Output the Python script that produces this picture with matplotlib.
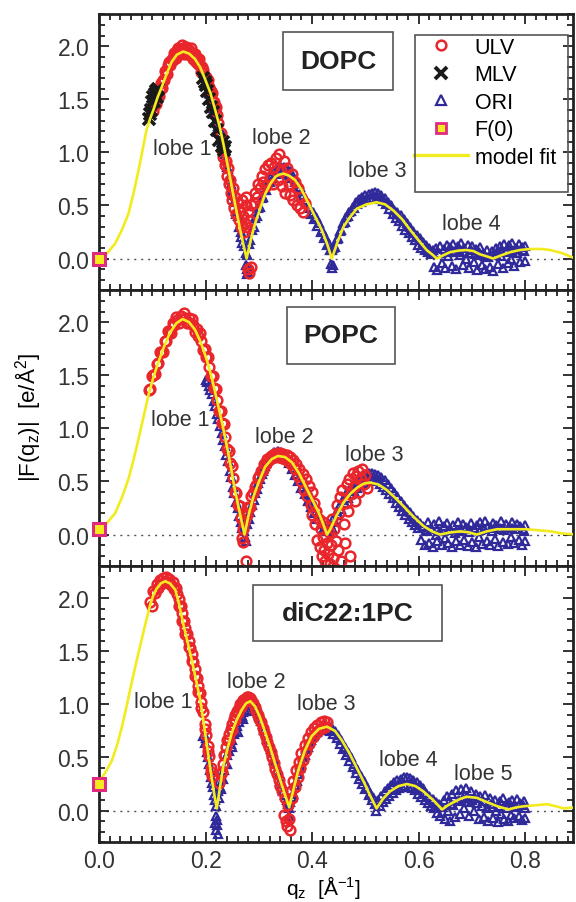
import numpy as np
import matplotlib.pyplot as plt
from matplotlib.ticker import MultipleLocator
from matplotlib.patches import Rectangle
from matplotlib.lines import Line2D

plt.rcParams['font.family'] = ['Liberation Sans', 'DejaVu Sans']
plt.rcParams['mathtext.fontset'] = 'custom'
plt.rcParams['mathtext.rm'] = 'Liberation Sans'
plt.rcParams['mathtext.it'] = 'Liberation Sans'

RED = '#e8262b'
NAVY = '#30299a'
YELLOW = '#f2ec1e'
MAGENTA = '#e02a80'

# ---------------- model fits (q in 1/A, |F| in e/A^2) ----------------
dopc_fit_q = [0, 0.015, 0.030, 0.043, 0.055, 0.065, 0.074, 0.082, 0.089, 0.096, 0.102, 0.110, 0.118,
              0.127, 0.136, 0.146, 0.158, 0.169, 0.180, 0.190, 0.199, 0.209, 0.218, 0.226, 0.233, 0.241,
              0.249, 0.257, 0.265, 0.271, 0.277, 0.285, 0.293, 0.303, 0.312, 0.321, 0.331, 0.338, 0.346,
              0.357, 0.368, 0.380, 0.393, 0.405, 0.418, 0.428, 0.437, 0.448, 0.459, 0.471, 0.484, 0.502,
              0.521, 0.537, 0.553, 0.569, 0.584, 0.600, 0.615, 0.625, 0.634, 0.646, 0.659, 0.675, 0.690,
              0.703, 0.715, 0.728, 0.740, 0.755, 0.772, 0.790, 0.810, 0.830, 0.847, 0.870, 0.894]
dopc_fit_f = [0, 0.05, 0.14, 0.27, 0.42, 0.62, 0.83, 1.03, 1.21, 1.32, 1.40, 1.52, 1.62, 1.74, 1.85,
              1.92, 1.95, 1.93, 1.88, 1.80, 1.69, 1.56, 1.40, 1.25, 1.09, 0.89, 0.68, 0.47, 0.27, 0.13,
              0.00, 0.18, 0.33, 0.48, 0.61, 0.70, 0.77, 0.79, 0.80, 0.78, 0.74, 0.65, 0.52, 0.40, 0.27,
              0.14, 0.00, 0.16, 0.30, 0.39, 0.47, 0.51, 0.53, 0.51, 0.45, 0.37, 0.27, 0.17, 0.08, 0.04,
              0.00, 0.03, 0.06, 0.075, 0.08, 0.07, 0.04, 0.02, 0.00, 0.03, 0.06, 0.08, 0.09, 0.09, 0.08,
              0.05, 0.00]

popc_fit_q = [0, 0.015, 0.030, 0.043, 0.055, 0.065, 0.074, 0.084, 0.093, 0.102, 0.111, 0.122, 0.133,
              0.145, 0.157, 0.169, 0.180, 0.191, 0.202, 0.212, 0.221, 0.231, 0.240, 0.248, 0.255, 0.264,
              0.273, 0.281, 0.290, 0.301, 0.312, 0.324, 0.336, 0.349, 0.362, 0.375, 0.387, 0.400, 0.412,
              0.420, 0.428, 0.434, 0.446, 0.459, 0.471, 0.484, 0.497, 0.509, 0.525, 0.540, 0.555, 0.571,
              0.590, 0.609, 0.625, 0.640, 0.660, 0.678, 0.695, 0.709, 0.728, 0.747, 0.775, 0.803, 0.825,
              0.847, 0.870, 0.894]
popc_fit_f = [0.05, 0.11, 0.20, 0.35, 0.52, 0.71, 0.90, 1.12, 1.32, 1.48, 1.62, 1.77, 1.90, 1.99, 2.03,
              2.00, 1.93, 1.81, 1.65, 1.47, 1.27, 1.05, 0.83, 0.62, 0.42, 0.21, 0.00, 0.19, 0.36, 0.51,
              0.64, 0.71, 0.74, 0.73, 0.68, 0.58, 0.46, 0.33, 0.21, 0.11, 0.00, 0.05, 0.18, 0.30, 0.38,
              0.44, 0.48, 0.49, 0.47, 0.42, 0.35, 0.27, 0.17, 0.08, 0.03, 0.00, 0.02, 0.03, 0.02, 0.00,
              0.03, 0.05, 0.05, 0.05, 0.04, 0.03, 0.01, 0.00]

dic22_fit_q = [0, 0.012, 0.024, 0.034, 0.043, 0.052, 0.061, 0.070, 0.080, 0.088, 0.096, 0.102, 0.108,
               0.116, 0.124, 0.133, 0.143, 0.150, 0.158, 0.166, 0.174, 0.182, 0.190, 0.196, 0.202, 0.207,
               0.212, 0.217, 0.221, 0.227, 0.233, 0.241, 0.249, 0.258, 0.268, 0.276, 0.284, 0.293, 0.302,
               0.311, 0.321, 0.330, 0.340, 0.349, 0.357, 0.365, 0.374, 0.386, 0.399, 0.413, 0.428, 0.443,
               0.456, 0.470, 0.484, 0.497, 0.509, 0.516, 0.521, 0.533, 0.546, 0.562, 0.578, 0.594, 0.609,
               0.627, 0.644, 0.655, 0.666, 0.678, 0.690, 0.709, 0.728, 0.748, 0.769, 0.783, 0.797, 0.820,
               0.841, 0.858, 0.872, 0.894]
dic22_fit_f = [0.27, 0.36, 0.47, 0.62, 0.79, 0.99, 1.20, 1.40, 1.61, 1.78, 1.94, 2.03, 2.09, 2.14, 2.16,
               2.14, 2.08, 1.95, 1.76, 1.59, 1.42, 1.23, 1.04, 0.84, 0.63, 0.46, 0.29, 0.13, 0.02, 0.22,
               0.41, 0.58, 0.73, 0.85, 0.95, 1.01, 1.03, 0.98, 0.88, 0.75, 0.60, 0.45, 0.29, 0.15, 0.03,
               0.20, 0.38, 0.56, 0.70, 0.77, 0.79, 0.75, 0.66, 0.54, 0.40, 0.27, 0.14, 0.07, 0.02, 0.11,
               0.18, 0.23, 0.25, 0.23, 0.18, 0.10, 0.01, 0.05, 0.08, 0.11, 0.13, 0.12, 0.08, 0.04, 0.01,
               0.03, 0.04, 0.05, 0.06, 0.04, 0.02, 0.03]

# F(0) values
f0_values = [0.0, 0.05, 0.25]

# ---------------- DOPC data ----------------
dopc_ulv = [(0.100, 1.43), (0.102, 1.39), (0.104, 1.46), (0.106, 1.46), (0.108, 1.55), (0.110, 1.54),
            (0.112, 1.53), (0.114, 1.61), (0.116, 1.65), (0.118, 1.61), (0.120, 1.68), (0.122, 1.68),
            (0.124, 1.77), (0.126, 1.75), (0.128, 1.74), (0.130, 1.82), (0.132, 1.85), (0.134, 1.82),
            (0.136, 1.88), (0.138, 1.87), (0.140, 1.94), (0.142, 1.92), (0.144, 1.89), (0.146, 1.96),
            (0.148, 1.98), (0.150, 1.93), (0.152, 1.97), (0.154, 1.95), (0.156, 2.01), (0.158, 1.97),
            (0.160, 1.93), (0.162, 1.99), (0.164, 1.99), (0.166, 1.93), (0.168, 1.96), (0.170, 1.92),
            (0.172, 1.98), (0.174, 1.93), (0.176, 1.88), (0.178, 1.93), (0.180, 1.93), (0.182, 1.85),
            (0.184, 1.88), (0.186, 1.83), (0.188, 1.88), (0.190, 1.82), (0.192, 1.76), (0.194, 1.80),
            (0.196, 1.78), (0.198, 1.70), (0.200, 1.71), (0.202, 1.65), (0.204, 1.68), (0.206, 1.62),
            (0.208, 1.55), (0.210, 1.58), (0.212, 1.56), (0.214, 1.47), (0.216, 1.47), (0.218, 1.40),
            (0.220, 1.43), (0.222, 1.35), (0.224, 1.28),
            (0.228, 1.18), (0.231, 1.02), (0.233, 0.96), (0.236, 0.88), (0.238, 0.92), (0.240, 0.78),
            (0.242, 0.85), (0.244, 0.70), (0.246, 0.74), (0.248, 0.62), (0.250, 0.55), (0.252, 0.66),
            (0.254, 0.48), (0.256, 0.58), (0.258, 0.42), (0.260, 0.52), (0.262, 0.36), (0.264, 0.45),
            (0.266, 0.30), (0.268, 0.55), (0.270, 0.40), (0.272, 0.25), (0.274, 0.33), (0.276, 0.50),
            (0.275, 0.58), (0.278, 0.30), (0.280, 0.45), (0.283, 0.35), (0.286, 0.50),
            (0.279, -0.10), (0.282, -0.14), (0.285, -0.08),
            (0.290, 0.52), (0.293, 0.62), (0.296, 0.58), (0.299, 0.70), (0.302, 0.66), (0.305, 0.78),
            (0.308, 0.72), (0.311, 0.84), (0.314, 0.68), (0.317, 0.88), (0.320, 0.76), (0.323, 0.90),
            (0.326, 0.70), (0.329, 0.86), (0.332, 0.95), (0.335, 0.74), (0.338, 0.98), (0.341, 0.82),
            (0.344, 0.68), (0.347, 0.92), (0.350, 0.62), (0.353, 0.85), (0.356, 0.70), (0.359, 0.60),
            (0.362, 0.80), (0.365, 0.55), (0.368, 0.72), (0.371, 0.50), (0.374, 0.66), (0.377, 0.48),
            (0.380, 0.58), (0.383, 0.44), (0.386, 0.52)]

dopc_mlv = [(0.094, 1.31), (0.096, 1.36), (0.098, 1.40), (0.100, 1.47), (0.102, 1.52), (0.103, 1.48),
            (0.105, 1.55), (0.107, 1.58), (0.108, 1.52), (0.110, 1.60), (0.196, 1.70), (0.198, 1.66),
            (0.200, 1.63), (0.202, 1.58), (0.206, 1.50), (0.210, 1.43), (0.214, 1.38), (0.218, 1.30),
            (0.222, 1.21), (0.226, 1.12), (0.230, 1.06), (0.232, 1.10), (0.234, 1.02), (0.236, 1.05)]

dopc_ori = [(0.200, 1.64), (0.203, 1.63), (0.206, 1.56), (0.209, 1.55), (0.212, 1.46), (0.215, 1.45),
            (0.218, 1.36), (0.221, 1.35), (0.224, 1.25), (0.227, 1.22), (0.230, 1.12), (0.233, 1.09),
            (0.236, 0.98), (0.239, 0.93), (0.242, 0.84), (0.245, 0.78), (0.248, 0.70), (0.251, 0.60),
            (0.254, 0.53), (0.257, 0.45), (0.260, 0.40), (0.263, 0.30), (0.266, 0.25), (0.269, 0.15),
            (0.272, 0.12), (0.275, 0.05), (0.278, 0.03), (0.205, 1.58), (0.214, 1.42), (0.222, 1.28),
            (0.231, 1.06), (0.240, 0.86), (0.249, 0.64), (0.258, 0.42), (0.267, 0.20),
            (0.276, -0.06), (0.278, -0.10), (0.280, -0.13), (0.277, -0.15), (0.281, -0.08),
            (0.281, 0.14), (0.284, 0.17), (0.287, 0.27), (0.290, 0.30), (0.293, 0.38), (0.296, 0.40),
            (0.299, 0.48), (0.302, 0.49), (0.305, 0.57), (0.308, 0.58), (0.311, 0.65), (0.314, 0.65),
            (0.317, 0.72), (0.320, 0.72), (0.323, 0.78), (0.326, 0.76), (0.329, 0.82), (0.332, 0.80),
            (0.335, 0.85), (0.338, 0.81), (0.341, 0.86), (0.344, 0.82), (0.347, 0.86), (0.350, 0.81),
            (0.353, 0.84), (0.356, 0.79), (0.359, 0.82), (0.362, 0.76), (0.365, 0.78), (0.368, 0.72),
            (0.371, 0.73), (0.374, 0.66), (0.377, 0.67), (0.380, 0.60), (0.383, 0.60), (0.386, 0.54),
            (0.389, 0.55), (0.392, 0.48), (0.395, 0.49), (0.398, 0.42), (0.401, 0.44), (0.404, 0.37),
            (0.407, 0.39), (0.410, 0.31), (0.413, 0.33), (0.416, 0.25), (0.419, 0.27), (0.422, 0.19),
            (0.425, 0.21), (0.428, 0.13), (0.431, 0.14), (0.434, 0.08), (0.437, 0.08),
            (0.436, -0.05), (0.438, -0.09), (0.440, -0.06),
            (0.440, 0.10), (0.443, 0.11), (0.446, 0.18), (0.449, 0.19), (0.452, 0.26), (0.455, 0.27),
            (0.458, 0.33), (0.461, 0.34), (0.464, 0.39), (0.467, 0.40), (0.470, 0.44), (0.473, 0.45),
            (0.476, 0.49), (0.479, 0.48), (0.482, 0.53), (0.485, 0.51), (0.488, 0.56), (0.491, 0.53),
            (0.494, 0.58), (0.497, 0.55), (0.500, 0.60), (0.503, 0.56), (0.506, 0.61), (0.509, 0.57),
            (0.512, 0.62), (0.515, 0.57), (0.518, 0.63), (0.521, 0.58), (0.524, 0.62), (0.527, 0.56),
            (0.530, 0.60), (0.533, 0.54), (0.536, 0.57), (0.539, 0.51), (0.542, 0.53), (0.545, 0.47),
            (0.548, 0.50), (0.551, 0.42), (0.554, 0.46), (0.557, 0.38), (0.560, 0.44), (0.563, 0.35),
            (0.566, 0.41), (0.569, 0.31), (0.572, 0.37), (0.575, 0.27), (0.578, 0.33), (0.581, 0.24),
            (0.584, 0.30), (0.587, 0.20), (0.590, 0.26), (0.593, 0.17), (0.596, 0.22), (0.599, 0.13),
            (0.602, 0.19), (0.605, 0.10), (0.608, 0.16), (0.611, 0.08), (0.614, 0.13), (0.617, 0.06),
            (0.620, 0.10), (0.623, 0.04),
            (0.626, 0.08), (0.629, -0.08), (0.632, 0.10), (0.635, -0.11), (0.638, 0.05), (0.641, 0.12),
            (0.644, -0.04), (0.647, 0.09), (0.650, -0.09), (0.653, 0.13), (0.656, 0.02), (0.659, 0.11),
            (0.662, -0.07), (0.665, 0.14), (0.668, 0.06), (0.671, -0.10), (0.674, 0.12), (0.677, 0.03),
            (0.680, 0.15), (0.683, -0.06), (0.686, 0.10), (0.689, 0.00), (0.692, 0.13), (0.695, -0.09),
            (0.698, 0.08), (0.701, 0.12), (0.704, -0.03), (0.707, 0.09), (0.710, -0.11), (0.713, 0.06),
            (0.716, 0.11), (0.719, -0.06), (0.722, 0.04), (0.725, -0.10), (0.728, 0.08), (0.731, 0.01),
            (0.734, -0.08), (0.737, 0.07), (0.740, -0.12), (0.743, 0.04), (0.746, 0.10), (0.749, -0.05),
            (0.752, 0.12), (0.755, 0.02), (0.758, -0.09), (0.761, 0.14), (0.764, 0.06), (0.767, -0.04),
            (0.770, 0.13), (0.773, 0.00), (0.776, 0.15), (0.779, -0.07), (0.782, 0.10), (0.785, 0.05),
            (0.788, 0.14), (0.791, -0.03), (0.794, 0.11), (0.797, 0.07), (0.800, 0.12), (0.800, -0.02),
            (0.655, 0.06), (0.665, 0.07), (0.675, 0.08), (0.685, 0.06), (0.695, 0.05), (0.705, 0.04),
            (0.715, 0.03), (0.725, 0.02), (0.745, 0.03), (0.755, 0.06), (0.765, 0.08), (0.775, 0.07),
            (0.785, 0.09), (0.795, 0.08)]

# ---------------- POPC data ----------------
popc_ulv = [(0.093, 1.36), (0.096, 1.37), (0.099, 1.49), (0.102, 1.50), (0.105, 1.51), (0.108, 1.61),
            (0.111, 1.62), (0.114, 1.72), (0.117, 1.72), (0.120, 1.72), (0.123, 1.82), (0.126, 1.82),
            (0.129, 1.92), (0.132, 1.91), (0.135, 1.90), (0.138, 1.99), (0.141, 1.97), (0.144, 2.05),
            (0.147, 2.02), (0.150, 1.99), (0.153, 2.06), (0.156, 2.03), (0.159, 2.09), (0.162, 2.04),
            (0.165, 1.99), (0.168, 2.04), (0.171, 1.99), (0.174, 2.03), (0.177, 1.97), (0.180, 1.91),
            (0.183, 1.94), (0.186, 1.87), (0.189, 1.90), (0.192, 1.82), (0.195, 1.74), (0.198, 1.75),
            (0.201, 1.67), (0.204, 1.67), (0.207, 1.58), (0.210, 1.49), (0.213, 1.49), (0.216, 1.38),
            (0.219, 1.37), (0.222, 1.27), (0.225, 1.16), (0.228, 1.16), (0.231, 1.05), (0.234, 1.04),
            (0.237, 0.92), (0.240, 0.81), (0.243, 0.79), (0.246, 0.67), (0.249, 0.65), (0.252, 0.53),
            (0.255, 0.40), (0.258, 0.39), (0.261, 0.28), (0.264, 0.27), (0.267, 0.16), (0.270, 0.05),
            (0.268, -0.03), (0.271, -0.07), (0.273, 0.12), (0.276, -0.25), (0.274, 0.20),
            (0.277, 0.18), (0.280, 0.26), (0.283, 0.26), (0.286, 0.36), (0.289, 0.39), (0.292, 0.45),
            (0.295, 0.47), (0.298, 0.53), (0.301, 0.55), (0.304, 0.60), (0.307, 0.61), (0.310, 0.66),
            (0.313, 0.66), (0.316, 0.71), (0.319, 0.70), (0.322, 0.74), (0.325, 0.72), (0.328, 0.76),
            (0.331, 0.73), (0.334, 0.77), (0.337, 0.73), (0.340, 0.77), (0.343, 0.72), (0.346, 0.76),
            (0.349, 0.71), (0.352, 0.75), (0.355, 0.69), (0.358, 0.73), (0.361, 0.66), (0.364, 0.70),
            (0.367, 0.62), (0.370, 0.66), (0.373, 0.55), (0.376, 0.62), (0.379, 0.50), (0.382, 0.57),
            (0.385, 0.42), (0.388, 0.52), (0.391, 0.36), (0.394, 0.46), (0.397, 0.28), (0.400, 0.40),
            (0.400, 0.18), (0.403, 0.30), (0.405, 0.10), (0.408, 0.22), (0.410, -0.05), (0.412, 0.15),
            (0.414, -0.12), (0.416, 0.05), (0.418, -0.20), (0.420, 0.12), (0.421, -0.02), (0.423, -0.15),
            (0.425, -0.25), (0.427, 0.08), (0.428, -0.08), (0.430, -0.18), (0.432, 0.02), (0.434, -0.28),
            (0.436, -0.10), (0.438, 0.15), (0.440, -0.22), (0.442, 0.05), (0.444, -0.06), (0.446, 0.28),
            (0.448, -0.15), (0.450, 0.20), (0.452, 0.35), (0.455, -0.25), (0.457, 0.42), (0.459, 0.10),
            (0.461, -0.08), (0.463, 0.30), (0.465, 0.48), (0.467, 0.22), (0.469, 0.52), (0.471, -0.20),
            (0.473, 0.38), (0.476, 0.58), (0.478, 0.45), (0.481, 0.32), (0.483, 0.55), (0.486, 0.60),
            (0.488, 0.40), (0.491, 0.52), (0.494, 0.62), (0.497, 0.48), (0.500, 0.56), (0.503, 0.44)]

popc_ori = [(0.200, 1.46), (0.203, 1.44), (0.206, 1.40), (0.209, 1.36), (0.212, 1.32), (0.215, 1.26),
            (0.218, 1.21), (0.221, 1.14), (0.224, 1.09), (0.227, 1.02), (0.230, 0.96), (0.233, 0.89),
            (0.236, 0.83), (0.239, 0.75), (0.242, 0.69), (0.245, 0.60), (0.248, 0.54), (0.251, 0.45),
            (0.254, 0.39), (0.257, 0.31), (0.260, 0.25), (0.263, 0.17), (0.266, 0.12), (0.269, 0.06),
            (0.272, 0.03), (0.274, -0.02), (0.276, -0.06), (0.273, 0.08),
            (0.278, 0.10), (0.281, 0.15), (0.284, 0.21), (0.287, 0.28), (0.290, 0.33), (0.293, 0.39),
            (0.296, 0.43), (0.299, 0.49), (0.302, 0.52), (0.305, 0.57), (0.308, 0.60), (0.311, 0.65),
            (0.314, 0.67), (0.317, 0.71), (0.320, 0.72), (0.323, 0.75), (0.326, 0.75), (0.329, 0.78),
            (0.332, 0.77), (0.335, 0.79), (0.338, 0.77), (0.341, 0.78), (0.344, 0.75), (0.347, 0.76),
            (0.350, 0.72), (0.353, 0.72), (0.356, 0.67), (0.359, 0.68), (0.362, 0.62), (0.365, 0.63),
            (0.368, 0.56), (0.371, 0.57), (0.374, 0.50), (0.377, 0.51), (0.380, 0.44), (0.383, 0.45),
            (0.386, 0.38), (0.389, 0.39), (0.392, 0.32), (0.395, 0.33), (0.398, 0.26), (0.401, 0.27),
            (0.404, 0.20), (0.407, 0.22), (0.410, 0.15), (0.413, 0.17), (0.416, 0.10), (0.419, 0.12),
            (0.422, 0.06), (0.425, 0.07), (0.428, 0.03), (0.431, 0.06),
            (0.434, 0.10), (0.437, 0.06), (0.440, 0.15), (0.443, 0.12), (0.446, 0.22), (0.449, 0.18),
            (0.452, 0.28), (0.455, 0.24), (0.458, 0.33), (0.461, 0.30), (0.464, 0.38), (0.467, 0.34),
            (0.470, 0.42), (0.473, 0.38), (0.476, 0.46), (0.479, 0.41), (0.482, 0.49), (0.485, 0.44),
            (0.488, 0.52), (0.491, 0.47), (0.494, 0.55), (0.497, 0.49), (0.500, 0.57), (0.503, 0.51),
            (0.506, 0.58), (0.509, 0.52), (0.512, 0.58), (0.515, 0.51), (0.518, 0.57), (0.521, 0.50),
            (0.524, 0.56), (0.527, 0.48), (0.530, 0.54), (0.533, 0.45), (0.536, 0.51), (0.539, 0.42),
            (0.542, 0.48), (0.545, 0.38), (0.548, 0.44), (0.551, 0.34), (0.554, 0.40), (0.557, 0.30),
            (0.560, 0.36), (0.563, 0.26), (0.566, 0.32), (0.569, 0.22), (0.572, 0.28), (0.575, 0.18),
            (0.578, 0.24), (0.581, 0.15), (0.584, 0.21), (0.587, 0.12), (0.590, 0.17), (0.593, 0.09),
            (0.596, 0.14), (0.599, 0.06), (0.602, 0.11),
            (0.605, -0.05), (0.608, 0.08), (0.611, -0.10), (0.614, 0.04), (0.617, 0.12), (0.620, -0.08),
            (0.623, 0.06), (0.626, -0.12), (0.629, 0.10), (0.632, 0.00), (0.635, -0.06), (0.638, 0.13),
            (0.641, 0.03), (0.644, -0.10), (0.647, 0.08), (0.650, -0.03), (0.653, 0.11), (0.656, -0.08),
            (0.659, 0.05), (0.662, -0.12), (0.665, 0.09), (0.668, 0.01), (0.671, -0.06), (0.674, 0.12),
            (0.677, -0.10), (0.680, 0.04), (0.683, 0.10), (0.686, -0.05), (0.689, 0.07), (0.692, -0.11),
            (0.695, 0.02), (0.698, 0.11), (0.701, -0.07), (0.704, 0.06), (0.707, -0.12), (0.710, 0.09),
            (0.713, -0.02), (0.716, 0.12), (0.719, -0.09), (0.722, 0.05), (0.725, 0.13), (0.728, -0.06),
            (0.731, 0.08), (0.734, -0.10), (0.737, 0.03), (0.740, 0.11), (0.743, -0.04), (0.746, 0.09),
            (0.749, -0.11), (0.752, 0.06), (0.755, 0.13), (0.758, -0.07), (0.761, 0.04), (0.764, 0.10),
            (0.767, -0.09), (0.770, 0.07), (0.773, -0.02), (0.776, 0.12), (0.779, -0.08), (0.782, 0.05),
            (0.785, 0.10), (0.788, -0.05), (0.791, 0.08), (0.794, -0.10), (0.797, 0.03), (0.800, 0.09),
            (0.800, -0.06), (0.615, 0.03), (0.635, 0.05), (0.655, 0.04), (0.675, 0.03), (0.695, 0.05),
            (0.715, 0.04), (0.735, 0.06), (0.755, 0.05), (0.775, 0.06), (0.795, 0.05)]

# ---------------- diC22:1PC data ----------------
dic22_ulv = [(0.096, 1.96), (0.099, 1.93), (0.102, 2.07), (0.105, 2.05), (0.108, 2.13), (0.111, 2.10),
             (0.114, 2.17), (0.117, 2.13), (0.120, 2.19), (0.123, 2.15), (0.126, 2.20), (0.129, 2.15),
             (0.132, 2.18), (0.135, 2.12), (0.138, 2.15), (0.141, 2.09), (0.144, 2.10), (0.147, 2.04),
             (0.150, 1.99), (0.153, 1.93), (0.156, 1.86), (0.159, 1.79), (0.162, 1.72), (0.165, 1.66),
             (0.168, 1.60), (0.171, 1.53), (0.174, 1.47), (0.177, 1.40), (0.180, 1.33), (0.183, 1.25),
             (0.186, 1.17), (0.189, 1.11), (0.192, 1.02), (0.195, 0.93), (0.198, 0.82), (0.201, 0.71),
             (0.204, 0.61), (0.207, 0.51), (0.210, 0.40), (0.212, 0.33),
             (0.150, 1.93), (0.156, 1.79), (0.162, 1.66), (0.168, 1.54), (0.174, 1.41), (0.180, 1.27),
             (0.186, 1.12), (0.192, 0.97), (0.198, 0.77), (0.204, 0.56), (0.210, 0.36),
             (0.226, 0.26), (0.229, 0.34), (0.232, 0.44), (0.235, 0.52), (0.238, 0.60), (0.241, 0.66),
             (0.244, 0.72), (0.247, 0.77), (0.250, 0.82), (0.253, 0.86), (0.256, 0.90), (0.259, 0.94),
             (0.262, 0.97), (0.265, 1.00), (0.268, 1.02), (0.271, 1.04), (0.274, 1.05), (0.277, 1.07),
             (0.280, 1.07), (0.283, 1.06), (0.286, 1.04), (0.289, 1.01), (0.292, 0.98), (0.295, 0.94),
             (0.298, 0.90), (0.301, 0.86), (0.304, 0.83), (0.307, 0.78), (0.310, 0.74), (0.313, 0.69),
             (0.316, 0.65), (0.319, 0.60), (0.322, 0.55), (0.325, 0.50), (0.328, 0.45), (0.331, 0.39),
             (0.334, 0.34), (0.337, 0.29), (0.340, 0.23), (0.343, 0.18),
             (0.231, 0.36), (0.237, 0.52), (0.243, 0.66), (0.249, 0.76), (0.255, 0.85), (0.261, 0.92),
             (0.267, 0.98),
             (0.348, -0.04), (0.351, -0.10), (0.353, -0.15), (0.356, -0.08), (0.358, -0.18),
             (0.355, 0.05), (0.350, 0.12),
             (0.360, 0.18), (0.363, 0.12), (0.365, 0.28), (0.368, 0.22), (0.370, 0.38), (0.373, 0.32),
             (0.375, 0.46), (0.378, 0.40), (0.380, 0.54), (0.383, 0.48), (0.386, 0.62), (0.389, 0.56),
             (0.392, 0.68), (0.395, 0.63), (0.398, 0.74), (0.401, 0.69), (0.404, 0.78), (0.407, 0.73),
             (0.410, 0.81), (0.413, 0.76), (0.416, 0.83), (0.419, 0.78), (0.422, 0.84), (0.425, 0.79),
             (0.428, 0.83)]

dic22_ori = [(0.196, 0.70), (0.198, 0.64), (0.200, 0.68), (0.202, 0.55), (0.204, 0.50), (0.206, 0.44),
             (0.208, 0.38), (0.210, 0.32), (0.212, 0.26), (0.214, 0.22), (0.216, 0.15), (0.218, 0.10),
             (0.220, 0.04), (0.219, -0.05), (0.221, -0.09), (0.222, -0.14), (0.220, -0.18), (0.223, -0.22),
             (0.218, -0.12), (0.223, 0.18), (0.225, 0.28), (0.227, 0.22),
             (0.226, 0.12), (0.229, 0.20), (0.232, 0.30), (0.235, 0.38), (0.238, 0.44), (0.241, 0.52),
             (0.244, 0.56), (0.247, 0.63), (0.250, 0.66), (0.253, 0.72), (0.256, 0.75), (0.259, 0.80),
             (0.262, 0.83), (0.265, 0.87), (0.268, 0.89), (0.271, 0.93), (0.274, 0.95), (0.277, 0.99),
             (0.280, 1.00), (0.283, 1.04), (0.286, 1.03), (0.289, 1.05), (0.292, 1.00), (0.295, 0.98),
             (0.298, 0.92), (0.301, 0.90), (0.304, 0.84), (0.307, 0.82), (0.310, 0.76), (0.313, 0.73),
             (0.316, 0.67), (0.319, 0.64), (0.322, 0.58), (0.325, 0.55), (0.328, 0.48), (0.331, 0.45),
             (0.334, 0.38), (0.337, 0.35), (0.340, 0.28), (0.343, 0.25), (0.346, 0.18), (0.349, 0.15),
             (0.352, 0.10), (0.355, 0.06), (0.357, 0.02), (0.356, -0.05),
             (0.240, 0.44), (0.250, 0.60), (0.260, 0.74), (0.270, 0.86), (0.280, 0.94),
             (0.359, 0.08), (0.362, 0.13), (0.365, 0.16), (0.368, 0.24), (0.371, 0.28), (0.374, 0.34),
             (0.377, 0.40), (0.380, 0.44), (0.383, 0.50), (0.386, 0.52), (0.389, 0.58), (0.392, 0.60),
             (0.395, 0.65), (0.398, 0.66), (0.401, 0.70), (0.404, 0.71), (0.407, 0.75), (0.410, 0.74),
             (0.413, 0.78), (0.416, 0.76), (0.419, 0.80), (0.422, 0.77), (0.425, 0.81), (0.428, 0.77),
             (0.431, 0.80), (0.434, 0.75), (0.437, 0.78), (0.440, 0.72), (0.443, 0.75), (0.446, 0.68),
             (0.449, 0.71), (0.452, 0.63), (0.455, 0.66), (0.458, 0.58), (0.461, 0.60), (0.464, 0.52),
             (0.467, 0.55), (0.470, 0.47), (0.473, 0.50), (0.476, 0.41), (0.479, 0.44), (0.482, 0.35),
             (0.485, 0.39), (0.488, 0.30), (0.491, 0.33), (0.494, 0.25), (0.497, 0.28), (0.500, 0.20),
             (0.503, 0.22), (0.506, 0.15), (0.509, 0.17), (0.512, 0.10), (0.515, 0.13), (0.518, 0.06),
             (0.521, 0.08), (0.520, 0.00),
             (0.524, 0.10), (0.527, 0.04), (0.530, 0.14), (0.533, 0.08), (0.536, 0.18), (0.539, 0.11),
             (0.542, 0.21), (0.545, 0.14), (0.548, 0.24), (0.551, 0.17), (0.554, 0.27), (0.557, 0.19),
             (0.560, 0.29), (0.563, 0.21), (0.566, 0.30), (0.569, 0.22), (0.572, 0.32), (0.575, 0.23),
             (0.578, 0.32), (0.581, 0.22), (0.584, 0.31), (0.587, 0.21), (0.590, 0.29), (0.593, 0.19),
             (0.596, 0.27), (0.599, 0.16), (0.602, 0.24), (0.605, 0.13), (0.608, 0.21), (0.611, 0.10),
             (0.614, 0.17), (0.617, 0.07), (0.620, 0.14), (0.623, 0.04), (0.626, 0.11), (0.629, 0.02),
             (0.632, 0.08), (0.635, -0.02), (0.638, 0.06), (0.641, -0.05), (0.644, 0.03),
             (0.647, 0.10), (0.650, -0.08), (0.653, 0.14), (0.656, 0.00), (0.659, -0.10), (0.662, 0.16),
             (0.665, 0.05), (0.668, -0.06), (0.671, 0.19), (0.674, 0.09), (0.677, -0.03), (0.680, 0.20),
             (0.683, 0.12), (0.686, 0.02), (0.689, 0.21), (0.692, 0.08), (0.695, -0.05), (0.698, 0.18),
             (0.701, 0.10), (0.704, 0.00), (0.707, 0.16), (0.710, 0.07), (0.713, -0.08), (0.716, 0.14),
             (0.719, 0.04), (0.722, -0.06), (0.725, 0.15), (0.728, 0.02), (0.731, -0.10), (0.734, 0.12),
             (0.737, 0.03), (0.740, -0.07), (0.743, 0.10), (0.746, 0.00), (0.749, -0.11), (0.752, 0.09),
             (0.755, -0.03), (0.758, 0.12), (0.761, -0.08), (0.764, 0.05), (0.767, -0.10), (0.770, 0.08),
             (0.773, -0.04), (0.776, 0.10), (0.779, -0.07), (0.782, 0.03), (0.785, 0.11), (0.788, -0.05),
             (0.791, 0.07), (0.794, -0.09), (0.797, 0.09), (0.800, 0.02), (0.800, -0.07),
             (0.660, 0.06), (0.675, 0.10), (0.690, 0.13), (0.705, 0.12), (0.720, 0.09), (0.735, 0.06),
             (0.750, 0.04), (0.765, 0.02), (0.780, 0.04), (0.795, 0.05)]

# lobe labels: (text, q, F)
dopc_lobes = [('lobe 1', 0.156, 1.04), ('lobe 2', 0.342, 1.14), ('lobe 3', 0.522, 0.83), ('lobe 4', 0.699, 0.33)]
popc_lobes = [('lobe 1', 0.152, 1.08), ('lobe 2', 0.347, 0.92), ('lobe 3', 0.516, 0.75)]
dic22_lobes = [('lobe 1', 0.120, 1.03), ('lobe 2', 0.295, 1.22), ('lobe 3', 0.426, 1.01),
               ('lobe 4', 0.580, 0.48), ('lobe 5', 0.721, 0.35)]

names = ['DOPC', 'POPC', 'diC22:1PC']
# name boxes: (q0, q1, F0, F1)
name_boxes = [(0.346, 0.552, 1.59, 2.13), (0.353, 0.556, 1.61, 2.14), (0.289, 0.644, 1.60, 2.12)]

fits = [(dopc_fit_q, dopc_fit_f), (popc_fit_q, popc_fit_f), (dic22_fit_q, dic22_fit_f)]
ulv_sets = [dopc_ulv, popc_ulv, dic22_ulv]
ori_sets = [dopc_ori, popc_ori, dic22_ori]
lobe_sets = [dopc_lobes, popc_lobes, dic22_lobes]

fig, axes = plt.subplots(3, 1, figsize=(5.76, 9.03), dpi=100, sharex=True)
fig.subplots_adjust(left=0.172, right=0.995, top=0.983, bottom=0.066, hspace=0)

for i, ax in enumerate(axes):
    ax.axhline(0, color='#555555', lw=1.0, ls=(0, (1.5, 3.5)), zorder=1)

    oq, of = np.array(ori_sets[i]).T
    ax.plot(oq, of, ls='none', marker='^', ms=6.2, mfc='none', mec=NAVY, mew=1.6, zorder=2)

    uq, uf = np.array(ulv_sets[i]).T
    ax.plot(uq, uf, ls='none', marker='o', ms=7, mfc='none', mec=RED, mew=1.8, zorder=3)

    if i == 0:
        mq, mf = np.array(dopc_mlv).T
        ax.plot(mq, mf, ls='none', marker='x', ms=8.5, mec='#1a1a1a', mew=2.6, zorder=4)

    ax.plot(fits[i][0], fits[i][1], color=YELLOW, lw=1.9, zorder=5)
    ax.plot([0], [f0_values[i]], ls='none', marker='s', ms=9, mfc=YELLOW, mec=MAGENTA,
            mew=2.2, zorder=6, clip_on=False)

    for txt, q, f in lobe_sets[i]:
        ax.text(q, f, txt, ha='center', va='center', fontsize=15.5, color='#333333', zorder=7)

    q0, q1, f0, f1 = name_boxes[i]
    ax.add_patch(Rectangle((q0, f0), q1 - q0, f1 - f0, fill=False, ec='#555555', lw=1.2, zorder=7))
    ax.text((q0 + q1) / 2, (f0 + f1) / 2, names[i], ha='center', va='center', fontsize=19,
            fontweight='bold', color='#222222', zorder=7)

    ax.set_xlim(0, 0.89)
    ax.set_ylim(-0.3, 2.3)
    ax.xaxis.set_major_locator(MultipleLocator(0.2))
    ax.xaxis.set_minor_locator(MultipleLocator(0.02))
    ax.yaxis.set_major_locator(MultipleLocator(0.5))
    ax.yaxis.set_minor_locator(MultipleLocator(0.1))
    ax.tick_params(which='both', direction='in', top=True, right=True, width=1.3, color='#222222')
    ax.tick_params(which='major', length=7, labelsize=16.5, pad=7, labelcolor='#333333')
    ax.tick_params(axis='x', which='major', pad=5)
    ax.tick_params(which='minor', length=4)
    ax.yaxis.set_major_formatter(plt.FuncFormatter(lambda v, p: f'{v:.1f}'))
    ax.xaxis.set_major_formatter(plt.FuncFormatter(lambda v, p: f'{v:.1f}'))
    for sp in ax.spines.values():
        sp.set_linewidth(2.0)
        sp.set_color('#222222')

# legend on top panel
ax = axes[0]
handles = [
    Line2D([], [], ls='none', marker='o', ms=7, mfc='none', mec=RED, mew=1.8),
    Line2D([], [], ls='none', marker='x', ms=9, mec='#1a1a1a', mew=2.8),
    Line2D([], [], ls='none', marker='^', ms=6.5, mfc='white', mec=NAVY, mew=1.6),
    Line2D([], [], ls='none', marker='s', ms=7, mfc=YELLOW, mec=MAGENTA, mew=2.0),
    Line2D([], [], color=YELLOW, lw=2.4),
]
labels = ['ULV', 'MLV', 'ORI', 'F(0)', 'model fit']
ax.legend(handles, labels, loc='upper left', bbox_to_anchor=(0.665, 0.918), frameon=False,
          fontsize=15.5, borderpad=0, handlelength=2.5, handletextpad=0.3, labelspacing=0.3,
          borderaxespad=0)
ax.add_patch(Rectangle((0.667, 0.356), 0.322, 0.571, transform=ax.transAxes, fill=False,
                       ec='#555555', lw=1.2, zorder=8))

fig.text(0.049, 0.538, '|F(q$_z$)|  [e/Å$^2$]', rotation=90, ha='center', va='center', fontsize=16)
fig.text(0.561, 0.002, 'q$_z$  [Å$^{-1}$]', ha='center', va='bottom', fontsize=15)

fig.savefig('out.png', dpi=100)
